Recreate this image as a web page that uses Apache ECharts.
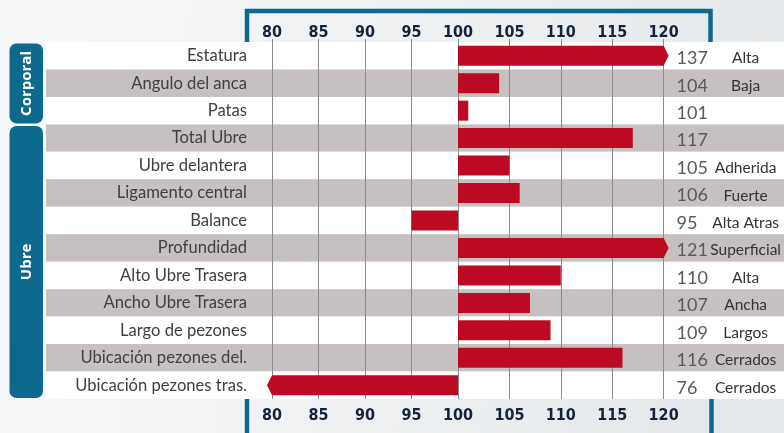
<!DOCTYPE html>
<html>
<head>
<meta charset="utf-8">
<script src="https://cdn.jsdelivr.net/npm/echarts@6/dist/echarts.min.js"></script>
<style>
  html, body { margin: 0; padding: 0; }
  #main { width: 784px; height: 433px; }
</style>
</head>
<body>
<div id="main"></div>
<script>
// datos
const categories = ['Estatura', 'Angulo del anca', 'Patas', 'Total Ubre', 'Ubre delantera',
    'Ligamento central', 'Balance', 'Profundidad', 'Alto Ubre Trasera', 'Ancho Ubre Trasera',
    'Largo de pezones', 'Ubicación pezones del.', 'Ubicación pezones tras.'];
const values = [137, 104, 101, 117, 105, 106, 95, 121, 110, 107, 109, 116, 76];
const qualifiers = ['Alta', 'Baja', '', '', 'Adherida', 'Fuerte', 'Alta Atras', 'Superficial',
    'Alta', 'Ancha', 'Largos', 'Cerrados', 'Cerrados'];
const groups = [['Corporal', 0, 2], ['Ubre', 3, 12]];
const axisMin = 80, axisBase = 100, axisMax = 120, tickStep = 5;

const BLUE = '#0e6a8c';
const RED = '#bb0a22';
const tickFont = { color: '#14233c', fontWeight: 'bold', fontSize: 16, fontFamily: '"DejaVu Sans Condensed", Roboto, sans-serif' };

const chart = echarts.init(document.getElementById('main'));

function xAxisDef(gridIndex, position, min, max, split) {
    return {
        type: 'value', gridIndex, position, min, max, interval: tickStep,
        axisLine: { show: false },
        axisTick: { show: position === 'top', length: 3, lineStyle: { color: '#8a8a8a' } },
        splitLine: { show: split, lineStyle: { color: '#8a8a8a', width: 1 } },
        axisLabel: Object.assign({
            margin: position === 'top' ? 1 : 9,
            showMaxLabel: gridIndex === 1
        }, tickFont)
    };
}

function barItem(lo, hi) {
    return function (params, api) {
        const v = api.value(0), i = api.value(1);
        if ((hi === axisBase && v >= axisBase) || (lo === axisBase && v < axisBase)) return null;
        const end = Math.max(lo, Math.min(hi, v));
        const p0 = api.coord([axisBase, i]);
        const p1 = api.coord([end, i]);
        const h = 20;
        const y0 = p0[1] - h / 2, y1 = p0[1] + h / 2;
        let pts;
        if (v > hi || v < lo) {
            const tip = v > hi ? 5 : -5;
            pts = [[p0[0], y0], [p1[0], y0], [p1[0] + tip, p0[1]], [p1[0], y1], [p0[0], y1]];
        } else {
            pts = [[p0[0], y0], [p1[0], y0], [p1[0], y1], [p0[0], y1]];
        }
        return { type: 'polygon', shape: { points: pts }, style: { fill: RED } };
    };
}

const rowData = values.map((v, i) => [v, i]);

chart.setOption({
    backgroundColor: new echarts.graphic.LinearGradient(0, 0, 1, 0.3, [
        { offset: 0, color: '#f8f9fa' },
        { offset: 1, color: '#e5e8ea' }
    ]),
    animation: false,
    grid: [
        { left: 272, top: 42, bottom: 34, width: 186 },
        { left: 458, top: 42, bottom: 34, width: 210 }
    ],
    xAxis: [
        xAxisDef(0, 'top', axisMin, axisBase, true),
        xAxisDef(0, 'bottom', axisMin, axisBase, false),
        xAxisDef(1, 'top', axisBase, axisMax, true),
        xAxisDef(1, 'bottom', axisBase, axisMax, false)
    ],
    yAxis: [
        {
            type: 'category', gridIndex: 0, data: categories, inverse: true,
            axisLine: { show: false }, axisTick: { show: false },
            axisLabel: { margin: 25, fontSize: 16.6, color: '#404040', fontFamily: 'Lato', padding: [4, 0, 0, 0] }
        },
        {
            type: 'category', gridIndex: 1, data: categories, inverse: true, position: 'right',
            axisLine: { show: false }, axisTick: { show: false },
            axisLabel: {
                margin: 13,
                formatter: (val, idx) => '{v|' + values[idx] + '}{q|' + qualifiers[idx] + '}',
                rich: {
                    v: { width: 36, align: 'left', fontSize: 18, color: '#5a5a5a', fontFamily: 'Lato', padding: [5, 0, 0, 0] },
                    q: { width: 66, align: 'center', fontSize: 15.5, color: '#333', fontFamily: 'Lato', padding: [5, 0, 0, 0] }
                }
            }
        }
    ],
    series: [
        {
            // franjas de filas
            type: 'custom', xAxisIndex: 0, yAxisIndex: 0, z: -1, silent: true,
            data: categories.map((c, i) => [axisMin, i]),
            renderItem: (params, api) => {
                const i = api.value(1);
                const c = api.coord([axisMin, i]);
                const bh = api.size([0, 1])[1];
                return {
                    type: 'rect',
                    shape: { x: 46, y: c[1] - bh / 2, width: api.getWidth() - 46, height: bh },
                    style: { fill: i % 2 ? '#c6c0c0' : '#ffffff' }
                };
            }
        },
        {
            type: 'custom', xAxisIndex: 0, yAxisIndex: 0, z: 3,
            data: rowData, renderItem: barItem(axisMin, axisBase)
        },
        {
            type: 'custom', xAxisIndex: 2, yAxisIndex: 1, z: 3,
            data: rowData, renderItem: barItem(axisBase, axisMax)
        },
        {
            // grupos Corporal / Ubre
            type: 'custom', xAxisIndex: 0, yAxisIndex: 0, z: 3, silent: true,
            data: groups.map(g => ({ name: g[0], value: [axisMin, g[1], g[2]] })),
            renderItem: (params, api) => {
                const bh = api.size([0, 1])[1];
                const top = api.coord([axisMin, api.value(1)])[1] - bh / 2 + 1.5;
                const bot = api.coord([axisMin, api.value(2)])[1] + bh / 2 - 1;
                const name = groups[params.dataIndex][0];
                return {
                    type: 'group',
                    children: [
                        { type: 'rect', shape: { x: 9.5, y: top, width: 33.5, height: bot - top, r: 7 }, style: { fill: BLUE } },
                        {
                            type: 'text', x: 27, y: (top + bot) / 2, rotation: Math.PI / 2,
                            style: {
                                text: name, fill: '#fff', font: 'bold 15px "Open Sans"',
                                align: 'center', verticalAlign: 'middle'
                            }
                        }
                    ]
                };
            }
        }
    ],
    graphic: [
        { type: 'polyline', z: -5, shape: { points: [[247, 42], [247, 11], [710.5, 11], [710.5, 42]] }, style: { stroke: BLUE, lineWidth: 4.5, fill: null } },
        { type: 'line', z: -5, shape: { x1: 247, y1: 399, x2: 247, y2: 433 }, style: { stroke: BLUE, lineWidth: 4.5 } },
        { type: 'line', z: -5, shape: { x1: 711.5, y1: 399, x2: 711.5, y2: 433 }, style: { stroke: BLUE, lineWidth: 4.5 } }
    ]
});
</script>
</body>
</html>
